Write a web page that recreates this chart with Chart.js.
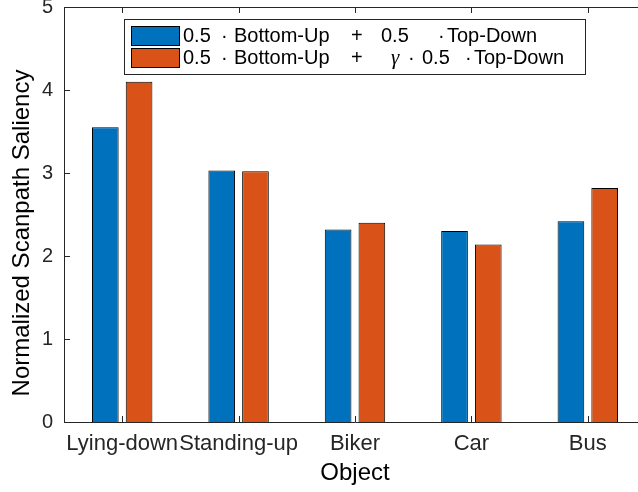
<!DOCTYPE html>
<html>
<head>
<meta charset="utf-8">
<script src="https://cdn.jsdelivr.net/npm/chart.js@4"></script>
<style>
  html, body { margin: 0; padding: 0; overflow: hidden; background: #fff; }
</style>
</head>
<body>
<canvas id="graficoSaliencia" width="650" height="492"></canvas>
<script>
// categorias e valores por objeto
const objetos = ['Lying-down', 'Standing-up', 'Biker', 'Car', 'Bus'];
const somaSimples = [3.55, 3.03, 2.32, 2.30, 2.42];
const somaGamma = [4.10, 3.02, 2.40, 2.14, 2.82];
const yMin = 0, yMax = 5, yPasso = 1;

const azul = '#0072BD';
const laranja = '#D95319';
const corEixo = '#262626';
const fonte = "'Liberation Sans', Arial, Helvetica, sans-serif";
const tituloY = 'Normalized Scanpath Saliency';

// legenda desenhada à mão (texto com espaçamento e gamma em itálico)
const linhasLegenda = [
  { cor: azul, partes: [[183, '0.5'], [221, '\u00b7'], [234, 'Bottom-Up'], [351, '+'], [381, '0.5'], [438, '\u00b7'], [447, 'Top-Down']] },
  { cor: laranja, partes: [[183, '0.5'], [221, '\u00b7'], [234, 'Bottom-Up'], [351, '+'], [391, '\u03b3', true], [408, '\u00b7'], [422, '0.5'], [465, '\u00b7'], [474, 'Top-Down']] }
];

const legendaPlugin = {
  id: 'legendaManual',
  afterDraw(chart) {
    const c = chart.ctx;
    c.save();
    c.fillStyle = '#fff';
    c.fillRect(124.5, 19.5, 461, 55);
    c.strokeStyle = corEixo;
    c.lineWidth = 1;
    c.strokeRect(124.5, 19.5, 461, 55);
    linhasLegenda.forEach((linha, i) => {
      const y = 26.5 + i * 22;
      c.fillStyle = linha.cor;
      c.fillRect(131.5, y, 48, 19);
      c.strokeStyle = '#000';
      c.strokeRect(131.5, y, 48, 19);
      c.fillStyle = '#000';
      c.textBaseline = 'middle';
      linha.partes.forEach(([x, txt, italico]) => {
        c.font = italico ? "italic 21px 'Liberation Serif', serif" : '20px ' + fonte;
        c.fillText(txt, x, y + 10);
      });
    });
    c.restore();
  }
};

// moldura superior, marcas para dentro e título do eixo y
const marcasPlugin = {
  id: 'marcasInternas',
  afterDatasetsDraw(chart) {
    const { ctx: c, chartArea: a, scales } = chart;
    c.save();
    c.strokeStyle = corEixo;
    c.lineWidth = 1;
    c.beginPath();
    c.moveTo(a.left, a.top + 0.5);
    c.lineTo(a.right, a.top + 0.5);
    for (let v = yMin; v <= yMax; v += yPasso) {
      const y = Math.round(scales.y.getPixelForValue(v)) + 0.5;
      c.moveTo(a.left, y);
      c.lineTo(a.left + 6, y);
    }
    objetos.forEach((_, i) => {
      const x = Math.round(scales.x.getPixelForValue(i)) + 0.5;
      c.moveTo(x, a.bottom);
      c.lineTo(x, a.bottom - 6);
      c.moveTo(x, a.top);
      c.lineTo(x, a.top + 6);
    });
    c.stroke();

    c.translate(22, 233);
    c.rotate(-Math.PI / 2);
    c.fillStyle = '#000';
    c.font = '24px ' + fonte;
    c.textAlign = 'center';
    c.textBaseline = 'middle';
    c.fillText(tituloY, 0, 0);
    c.restore();
  }
};

const ctx = document.getElementById('graficoSaliencia').getContext('2d');

new Chart(ctx, {
  type: 'bar',
  data: {
    labels: objetos,
    datasets: [
      { label: '0.5 · Bottom-Up + 0.5 · Top-Down', data: somaSimples, backgroundColor: azul, borderColor: '#000', borderWidth: 1 },
      { label: '0.5 · Bottom-Up + γ · 0.5 · Top-Down', data: somaGamma, backgroundColor: laranja, borderColor: '#000', borderWidth: 1 }
    ]
  },
  options: {
    responsive: false,
    animation: false,
    layout: { padding: { top: 7, right: 4, left: 0, bottom: 0 } },
    plugins: { legend: { display: false }, tooltip: { enabled: false } },
    datasets: { bar: { categoryPercentage: 0.58, barPercentage: 0.79 } },
    scales: {
      x: {
        grid: { display: false, drawTicks: false },
        border: { display: true, color: corEixo, width: 1 },
        ticks: { color: corEixo, font: { family: fonte, size: 22 }, autoSkip: false, maxRotation: 0, padding: 9 },
        title: { display: true, text: 'Object', color: '#000', font: { family: fonte, size: 24 }, padding: { top: 0, bottom: 4 } },
        afterFit(scale) { scale.height = 70; scale.paddingLeft = 0; scale.paddingRight = 0; }
      },
      y: {
        min: yMin,
        max: yMax,
        grid: { display: false, drawTicks: false },
        border: { display: true, color: corEixo, width: 1 },
        ticks: { stepSize: yPasso, color: corEixo, font: { family: fonte, size: 20 }, padding: 11 },
        afterFit(scale) { scale.width = 64; scale.paddingTop = 0; scale.paddingBottom = 0; }
      }
    }
  },
  plugins: [marcasPlugin, legendaPlugin]
});
</script>
</body>
</html>
